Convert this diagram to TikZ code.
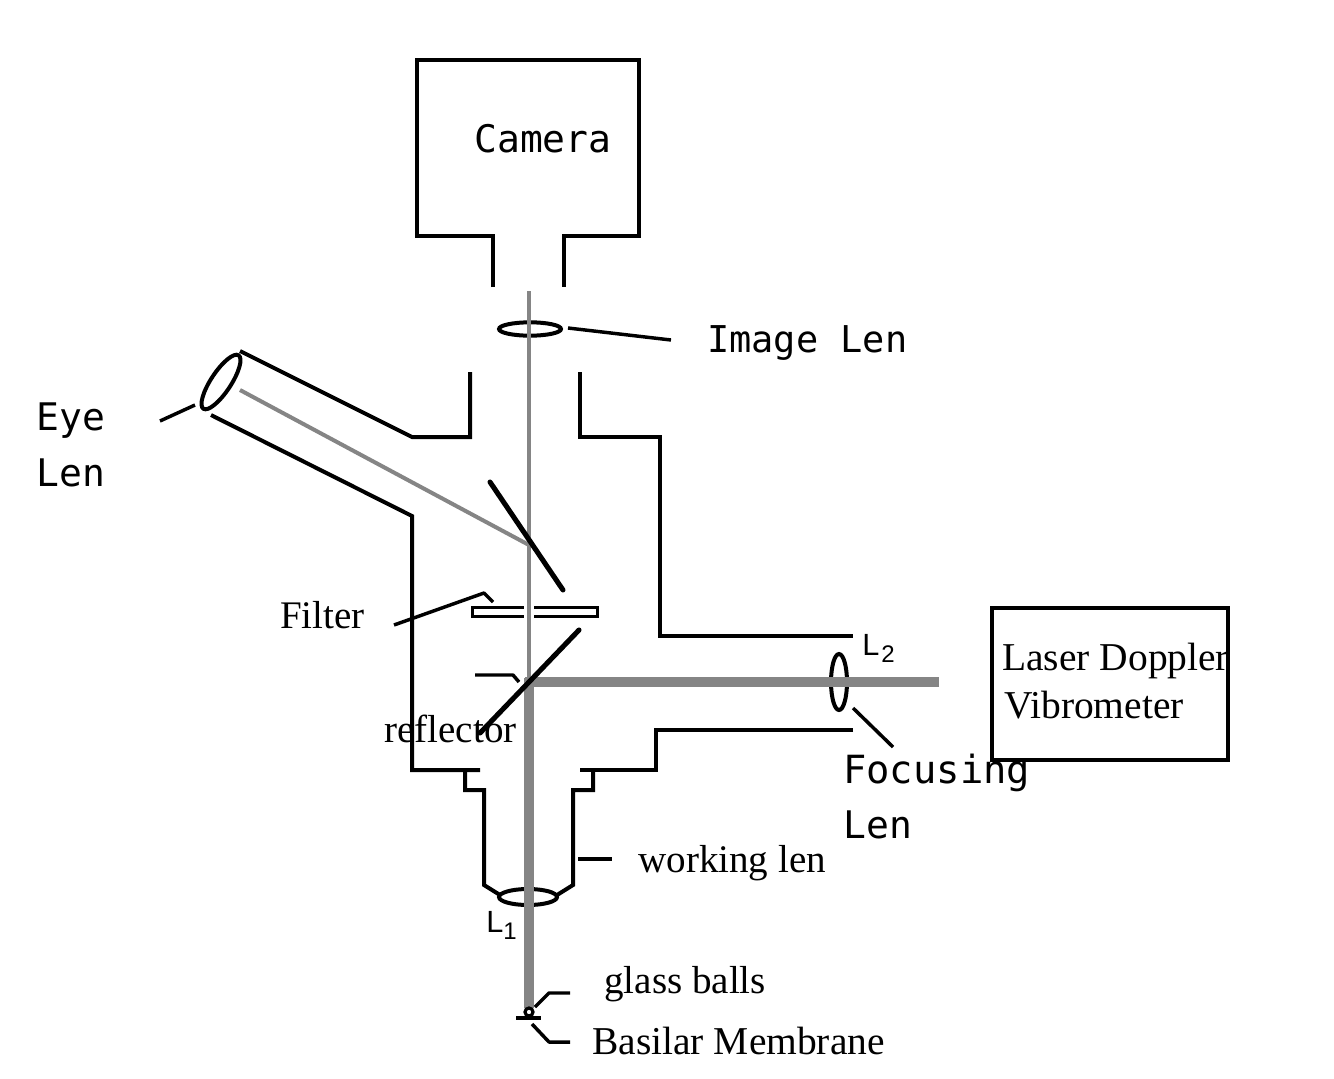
\documentclass[tikz,border=0pt]{standalone}
\usepackage{fontspec}
\setmainfont{Liberation Serif}
\newfontfamily\monof{DejaVu Sans Mono}
\newfontfamily\sansf{Liberation Sans}
\usetikzlibrary{shapes.geometric}
\definecolor{beam}{HTML}{858585}
\tikzset{
  wall/.style={draw=black,line width=3pt,line join=miter},
  leader/.style={draw=black,line width=2.6pt,line join=round},
  lens/.style={draw=black,line width=3pt,ellipse,inner sep=0pt,fill=none},
  mirror/.style={draw=black,line width=3.8pt,line cap=round},
  thinbeam/.style={draw=beam,line width=3.2pt},
  thickbeam/.style={draw=beam,line width=6.8pt},
  monolabel/.style={anchor=base west,inner sep=0pt,font=\monof\fontsize{28.5}{30}\selectfont},
  imagelabelstyle/.style={anchor=base west,inner sep=0pt,font=\monof\fontsize{27.7}{30}\selectfont},
  focuslabelstyle/.style={anchor=base west,inner sep=0pt,font=\monof\fontsize{29.1}{30}\selectfont},
  seriflabel/.style={anchor=base west,inner sep=0pt,font=\fontsize{29.3}{32}\selectfont},
  seriflarge/.style={anchor=base west,inner sep=0pt,font=\fontsize{29.6}{32}\selectfont},
  sanslabel/.style={anchor=base west,inner sep=0pt,font=\sansf\fontsize{23}{24}\selectfont},
}
\newcommand{\lensub}[2]{L\kern#2\raisebox{-5.25pt}{\fontsize{18}{18}\selectfont #1}}
\begin{document}
\begin{tikzpicture}[x=0.75pt,y=-0.75pt]
\useasboundingbox (0,0) rectangle (1334,1078);
% housings
\draw[wall] (493,287) -- (493,236) -- (417,236) -- (417,60) -- (639,60) -- (639,236) -- (564,236) -- (564,287);
\draw[wall] (470,372) -- (470,437) -- (412,437) -- (240,351);
\draw[wall] (211,415) -- (412,516) -- (412,770) -- (480,770);
\draw[wall] (465,770) -- (465,790) -- (484,790) -- (484,885) -- (500,895);
\draw[wall] (580,372) -- (580,437) -- (660,437) -- (660,636) -- (853,636);
\draw[wall] (853,730) -- (656,730) -- (656,770) -- (580,770);
\draw[wall] (593,770) -- (593,790) -- (573,790) -- (573,885) -- (557,895);
\node[draw=black,line width=3pt,outer sep=0pt,inner sep=0pt,anchor=north west,minimum width=177pt,minimum height=114pt] (laser) at (992,608) {};
% lenses
\node[lens,minimum width=46.5pt,minimum height=10pt] (imagelens) at (530,329) {};
\node[lens,minimum width=43.5pt,minimum height=12pt] (lensone) at (528,897) {};
\node[lens,minimum width=12pt,minimum height=42pt] (lenstwo) at (839,682) {};
\node[lens,rotate=56.6,minimum width=48pt,minimum height=15pt] (eyelens) at (221,382) {};
% filter
\node[draw=black,line width=2.6pt,fill=white,minimum width=94pt,minimum height=6.5pt,inner sep=0pt] (filterbox) at (535,612) {};
% beams
\coordinate (topbeam) at (529,291);
\coordinate (splitter) at (529,545);
\coordinate (junction) at (529,682);
\coordinate (sample) at (529,1008);
\coordinate (laserbeam) at (939,682);
\coordinate (eyebeam) at (240,390);
\draw[draw=white,line width=7pt] (529,603) -- (529,621);
\draw[thinbeam] (topbeam) -- (junction);
\draw[thinbeam,line width=3pt] (eyebeam) -- (splitter);
\draw[thickbeam] (laserbeam) -- (525,682);
\draw[thickbeam] (529,678) -- (sample);
% mirrors
\coordinate (mirroraA) at (490,482);
\coordinate (mirroraB) at (563,590);
\coordinate (mirrorbA) at (579,630);
\coordinate (mirrorbB) at (480,733);
\draw[mirror] (mirroraA) -- (mirroraB);
\draw[mirror] (mirrorbA) -- (mirrorbB);
% sample
\node[draw=black,line width=2.4pt,circle,inner sep=0pt,minimum size=6pt,fill=white] (ball) at (529,1012) {};
\coordinate (memA) at (516,1018);
\coordinate (memB) at (541,1018);
\draw[leader] (memA) -- (memB);
% labels
\node[monolabel] (camera) at (474,152) {Camera};
\node[imagelabelstyle] (imagelabel) at (707,352) {Image Len};
\node[monolabel] (eyelabel) at (36,430) {Eye};
\node[monolabel] (lenlabel) at (36,486) {Len};
\node[focuslabelstyle] (focusing) at (843,783) {Focusing};
\node[monolabel] (focuslen) at (843,838) {Len};
\node[seriflabel] (filterlabel) at (280,628) {Filter};
\node[seriflabel] (reflector) at (384,742) {reflector};
\node[seriflabel] (working) at (638,872) {working len};
\node[seriflabel] (glass) at (604,993) {glass balls};
\node[seriflarge] (basilar) at (592,1054) {Basilar Membrane};
\node[seriflarge] (laserone) at (1002,670) {Laser Doppler};
\node[seriflarge] (lasertwo) at (1004,718) {Vibrometer};
\node[sanslabel] (lone) at (486,932) {\lensub{1}{0pt}};
\node[sanslabel] (ltwo) at (862,655) {\lensub{2}{1.5pt}};
% leaders
\coordinate (imgA) at (568,328);
\coordinate (imgB) at (671,340);
\draw[leader] (imgA) -- (imgB);
\coordinate (eyeA) at (195,405);
\coordinate (eyeB) at (160,421);
\draw[leader] (eyeA) -- (eyeB);
\coordinate (filA) at (394,625);
\coordinate (filB) at (484,593);
\coordinate (filC) at (493,602);
\draw[leader] (filA) -- (filB) -- (filC);
\coordinate (refA) at (475,675);
\coordinate (refB) at (513,675);
\coordinate (refC) at (519,682);
\draw[leader] (refA) -- (refB) -- (refC);
\coordinate (focA) at (853,708);
\coordinate (focB) at (893,747);
\draw[leader] (focA) -- (focB);
\coordinate (workA) at (578,859);
\coordinate (workB) at (612,859);
\draw[leader] (workA) -- (workB);
\coordinate (glaA) at (535,1007);
\coordinate (glaB) at (549,993);
\coordinate (glaC) at (570,993);
\draw[leader] (glaA) -- (glaB) -- (glaC);
\coordinate (basA) at (532,1024);
\coordinate (basB) at (549,1042);
\coordinate (basC) at (570,1042);
\draw[leader] (basA) -- (basB) -- (basC);
\end{tikzpicture}
\end{document}
